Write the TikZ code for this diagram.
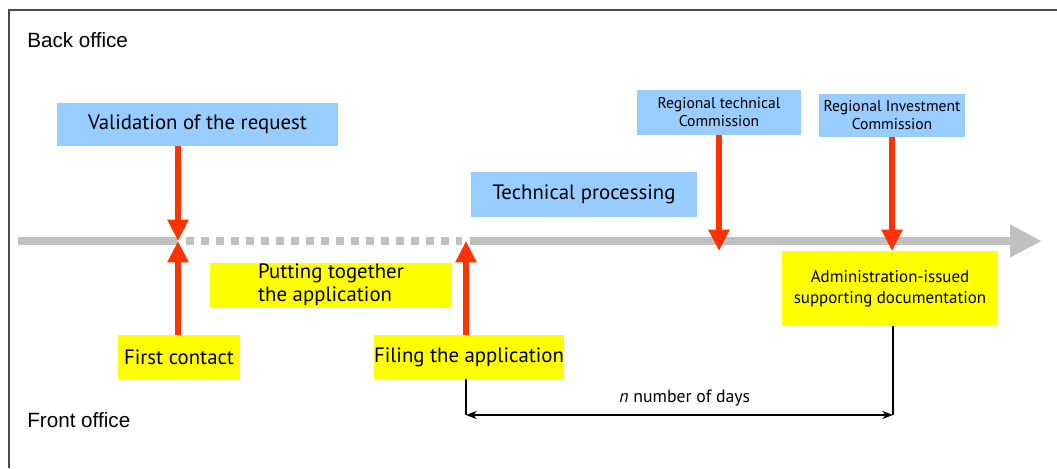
\documentclass[tikz,border=0pt]{standalone}
\usepackage{fontspec}
\setmainfont{PT Sans}
\newfontfamily\officefont{Liberation Sans}
\usetikzlibrary{arrows.meta,positioning,calc}
\definecolor{boblue}{RGB}{153,204,255}
\definecolor{foyellow}{RGB}{255,255,0}
\definecolor{tlgray}{RGB}{192,192,192}
\definecolor{evred}{RGB}{255,51,0}

\begin{document}
\begin{tikzpicture}[x=0.75pt, y=-0.75pt,
  every node/.style={inner sep=0pt, font=\fontsize{15.6}{17}\selectfont},
  bluebox/.style={fill=boblue, align=center},
  yelbox/.style={fill=foyellow, align=center},
  evarrow/.style={-{Triangle[width=15pt,length=16pt]}, evred, line width=4pt},
  dimline/.style={black, line width=1.1pt}]
  \useasboundingbox (0,0) rectangle (1057,468);

  % frame and office labels
  \draw[line width=1.5pt, black!70] (9,468) -- (9,10) -- (1057,10);
  \node[anchor=west, font=\officefont\fontsize{15.5}{17}\selectfont] (back) at (27,40) {Back office};
  \node[anchor=west, font=\officefont\fontsize{15.5}{17}\selectfont] (front) at (27,420) {Front office};

  % timeline
  \coordinate (t0) at (18,241);
  \coordinate (t1) at (178,241);
  \coordinate (t2) at (466,241);
  \coordinate (t3) at (719,251);
  \coordinate (t4) at (892,251);
  \coordinate (tend) at (1042,241);
  \draw[tlgray, line width=6pt] (t0) -- (t1);
  \draw[tlgray, line width=6pt, dash pattern=on 6pt off 5.25pt] (186,241) -- (462,241);
  \draw[tlgray, line width=6pt, -{Triangle[width=23pt,length=24pt]}] (470,241) -- (tend);

  % back office boxes
  \node[bluebox, minimum width=210.75pt, minimum height=32.25pt] (val) at (197.5,124.5) {Validation of the request};
  \node[bluebox, minimum width=169.5pt, minimum height=33.75pt] (tech) at (584,194.5) {Technical processing};
  \node[bluebox, minimum width=123pt, minimum height=33.75pt, font=\fontsize{11.7}{13.5}\selectfont] (rtc) at (719,112.5) {Regional technical\\Commission};
  \node[bluebox, minimum width=109.5pt, minimum height=32.25pt, font=\fontsize{11.7}{13.5}\selectfont] (ric) at (892,115.5) {Regional Investment\\Commission};

  % front office boxes
  \node[yelbox, minimum width=181.5pt, minimum height=33.75pt] (put) at (331,285.5) {\begin{tabular}{@{}l@{}}Putting together\\the application\end{tabular}};
  \node[yelbox, minimum width=91.5pt, minimum height=33pt] (first) at (179,357) {First contact};
  \node[yelbox, minimum width=141pt, minimum height=33pt] (fil) at (469,357) {Filing the application};
  \node[yelbox, minimum width=162pt, minimum height=56.25pt, font=\fontsize{12.7}{15.5}\selectfont] (adm) at (890,288.5) {Administration-issued\\supporting documentation};

  % red event arrows
  \draw[evarrow] (val.south -| t1) -- (t1);
  \draw[evarrow] (first.north -| t1) -- (t1);
  \draw[evarrow] (fil.north -| t2) -- (t2);
  \draw[evarrow] (rtc.south -| t3) -- (t3);
  \draw[evarrow] (ric.south -| t4) -- (t4);

  % duration
  \coordinate (d1) at (466,415);
  \coordinate (d2) at (893,415);
  \draw[dimline] (fil.south -| d1) -- (d1);
  \draw[dimline] (adm.south -| d2) -- (d2);
  \draw[{Stealth[length=8pt,width=6pt]}-{Stealth[length=8pt,width=6pt]}, line width=2pt] (d1) -- (d2)
    node[midway, above=6pt, xshift=4pt, font=\fontsize{13.3}{15}\selectfont] (ndays) {\textit{n} number of days};
\end{tikzpicture}
\end{document}
